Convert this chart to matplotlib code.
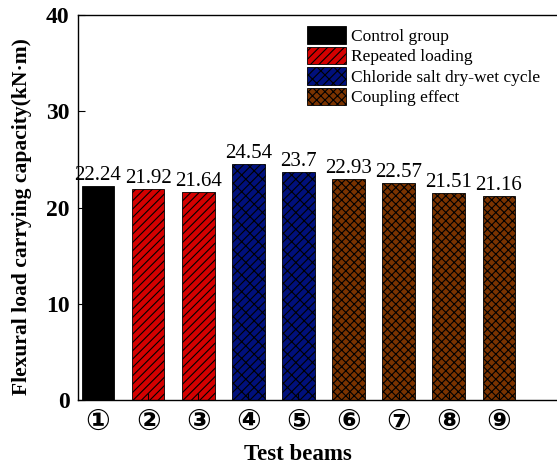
import matplotlib
matplotlib.use('Agg')
import matplotlib.pyplot as plt
from matplotlib.patches import Patch

# Flexural capacity of each test beam, grouped by exposure condition
beams = ['①', '②', '③', '④', '⑤', '⑥', '⑦', '⑧', '⑨']
capacity = [22.24, 21.92, 21.64, 24.54, 23.7, 22.93, 22.57, 21.51, 21.16]
labels = ['22.24', '21.92', '21.64', '24.54', '23.7', '22.93', '22.57', '21.51', '21.16']
group = [0, 1, 1, 2, 2, 3, 3, 3, 3]
group_names = ['Control group', 'Repeated loading',
               'Chloride salt dry-wet cycle', 'Coupling effect']

group_colors = ['#000000', '#d40000', '#00107c', '#7a3300']
group_hatch = ['', '////', '/\\/\\//', 'xxxx']

plt.rcParams['font.family'] = ['Liberation Serif', 'DejaVu Sans']
plt.rcParams['hatch.linewidth'] = 0.8

fig = plt.figure(figsize=(5.57, 4.68), dpi=100)
ax = fig.add_axes([78 / 557, 68 / 468, 1 - 78 / 557, 385 / 468])

x = list(range(1, len(beams) + 1))
for xi, v, g, lab in zip(x, capacity, group, labels):
    ax.bar(xi, v, width=0.65, color=group_colors[g], hatch=group_hatch[g],
           edgecolor='black', linewidth=0.6)
    ax.text(xi, v + 0.1, lab, ha='center', va='bottom', fontsize=15)

ax.set_xlim(0.6, 0.6 + 479 / 50.1)
ax.set_ylim(0, 40)
ax.set_yticks([0, 10, 20, 30, 40])
ax.set_xticks(x)
ax.set_xticklabels(beams, fontsize=21, fontweight='bold',
                   family=['DejaVu Sans'])
for t in ax.get_yticklabels():
    t.set_fontsize(17)
    t.set_fontweight('bold')
ax.tick_params(axis='both', direction='in', length=5, width=0.8, pad=6)
ax.tick_params(axis='x', pad=6)
ax.spines['right'].set_visible(False)
for s in ['left', 'top', 'bottom']:
    ax.spines[s].set_linewidth(1.0)

ax.set_xlabel('Test beams', fontsize=16.5, fontweight='bold')
ax.xaxis.set_label_coords((298 - 78) / 479, -44 / 385)
ax.set_ylabel('Flexural load carrying capacity(kN·m)', fontsize=15.5,
              fontweight='bold')
ax.yaxis.set_label_coords(-46 / 479, (400 - 217) / 385)

handles = [Patch(facecolor=group_colors[i], hatch=group_hatch[i],
                 edgecolor='black', linewidth=0.6) for i in range(4)]
fig.legend(handles, group_names, loc='upper left',
           bbox_to_anchor=(295 / 557, 1 - 14 / 468), frameon=False,
           fontsize=12.5, handlelength=2.25, handleheight=1.2,
           handletextpad=0.3, labelspacing=0.1, borderpad=0.2)

fig.savefig('out.png', dpi=100)
